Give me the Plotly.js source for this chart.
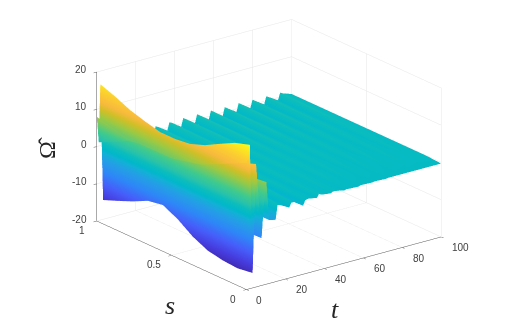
<!DOCTYPE html>
<html>
<head>
<meta charset="utf-8">
<script src="https://cdn.plot.ly/plotly-3.0.1.min.js"></script>
<style>html,body{margin:0;padding:0;background:#fff}#myPlot{width:508px;height:335px}</style>
</head>
<body>
<div id="myPlot"></div>
<script>
// t positions of the grid (crest, after crest, before next crest for each tooth)
var t_values = [0, 1, 1.8, 3.2, 5, 7.8, 8.9, 10.3, 11.7, 15,
    16, 17.4, 22, 23.1, 24.5, 29.1, 30.2, 31.6, 36.2, 37.3, 38.7, 43.3,
    44.4, 45.8, 50.4, 51.5, 52.9, 57.5, 58.6, 60, 64.6, 65.7, 67.1, 71.7,
    72.8, 74.2, 78.8, 79.9, 81.3, 85.9, 87, 88.4, 93, 94.1, 95.5, 100];
var s_values = [1, 0.9, 0.8, 0.7, 0.6, 0.5, 0.4, 0.3, 0.2, 0.1, 0];

// surface height, one row per s value
var z_s100 = [8, 1, 16.5, -14.8, 10, -6.7, 1, 6.6, -2.8, -2, 2.5, 1.8, -1.5, 2, 1.4, -1.2, 1.2, 0.8, -0.8, 1.3, 0.9, -0.8, 1.4, 0.9, -0.8, 1.4, 0.9, -0.8, 1.4, 0.9, -0.9, 1.3, 0.8, -0.8, 1.4, 0.9, -0.8, 1.3, 0.8, -0.8, 1.2, 0.8, -0.7, 1.2, 0.8, 0];
var z_s090 = [7, 3, 15, -13.2, 9.5, -6, 0.9, 6, -2.5, -2, 2.4, 1.7, -1.4, 1.9, 1.3, -1.1, 1.1, 0.7, -0.7, 1.2, 0.8, -0.7, 1.3, 0.8, -0.7, 1.3, 0.8, -0.7, 1.3, 0.8, -0.8, 1.2, 0.7, -0.7, 1.3, 0.8, -0.7, 1.2, 0.7, -0.7, 1.1, 0.7, -0.6, 1.1, 0.7, 0];
var z_s080 = [6, 5, 13.2, -11.5, 8.6, -5.2, 0.8, 5.3, -2.2, -1.9, 2.3, 1.6, -1.4, 1.8, 1.2, -1, 1, 0.7, -0.7, 1.1, 0.7, -0.7, 1.2, 0.8, -0.7, 1.2, 0.8, -0.7, 1.2, 0.8, -0.7, 1.1, 0.7, -0.6, 1.1, 0.7, -0.6, 1.1, 0.7, -0.6, 1, 0.6, -0.6, 1, 0.6, 0];
var z_s070 = [6, 6, 12, -9.5, 7.8, -4.3, 0.7, 4.8, -1.9, -1.8, 2.2, 1.5, -1.3, 1.7, 1.1, -1, 0.9, 0.6, -0.6, 1, 0.6, -0.6, 1.1, 0.7, -0.6, 1, 0.7, -0.6, 1, 0.7, -0.6, 1, 0.6, -0.6, 1, 0.6, -0.5, 0.9, 0.6, -0.5, 0.9, 0.5, -0.5, 0.9, 0.5, 0];
var z_s060 = [6, 7, 11, -8.8, 7, -4, 0.6, 4.4, -1.7, -1.8, 2.1, 1.4, -1.2, 1.6, 1, -0.9, 0.9, 0.6, -0.6, 0.9, 0.6, -0.5, 0.9, 0.6, -0.5, 0.9, 0.6, -0.5, 0.9, 0.6, -0.5, 0.8, 0.5, -0.5, 0.8, 0.5, -0.5, 0.8, 0.5, -0.4, 0.7, 0.5, -0.4, 0.7, 0.4, 0];
var z_s050 = [6, 8, 11, -10.8, 7, -4.9, 0.6, 4.4, -2, -2, 2, 1.3, -1.2, 1.5, 1, -0.9, 0.8, 0.5, -0.5, 0.8, 0.5, -0.5, 0.8, 0.5, -0.4, 0.7, 0.5, -0.4, 0.7, 0.5, -0.4, 0.7, 0.4, -0.4, 0.6, 0.4, -0.4, 0.6, 0.4, -0.3, 0.6, 0.4, -0.3, 0.5, 0.3, 0];
var z_s040 = [7, 9, 11.5, -13.6, 7.5, -6.1, 0.7, 4.6, -2.5, -2.3, 2, 1.3, -1.3, 1.4, 0.9, -1, 0.7, 0.4, -0.5, 0.7, 0.4, -0.4, 0.6, 0.4, -0.4, 0.6, 0.4, -0.3, 0.5, 0.3, -0.3, 0.5, 0.3, -0.3, 0.5, 0.3, -0.3, 0.4, 0.3, -0.3, 0.4, 0.2, -0.2, 0.4, 0.2, 0];
var z_s030 = [8, 10, 13, -15.5, 8.5, -7, 0.8, 5.2, -2.8, -2.6, 1.8, 1.1, -1.3, 1.3, 0.8, -1.1, 0.6, 0.4, -0.6, 0.6, 0.3, -0.4, 0.5, 0.3, -0.3, 0.4, 0.3, -0.3, 0.4, 0.2, -0.2, 0.4, 0.2, -0.2, 0.3, 0.2, -0.2, 0.3, 0.2, -0.2, 0.3, 0.2, -0.2, 0.3, 0.1, 0];
var z_s020 = [10, 11, 15.2, -16.3, 10, -7.3, 0.9, 6.1, -3, -3, 1.4, 0.8, -1.3, 1, 0.6, -1.3, 0.5, 0.3, -0.6, 0.5, 0.2, -0.4, 0.4, 0.2, -0.3, 0.3, 0.2, -0.2, 0.3, 0.1, -0.2, 0.2, 0.1, -0.2, 0.2, 0.1, -0.1, 0.2, 0.1, -0.1, 0.2, 0.1, -0.1, 0.1, 0.1, 0];
var z_s010 = [12, 13, 17.3, -16.6, 11.5, -7.5, 1, 6.9, -3, -3.2, 0.9, 0.6, -1.2, 0.5, 0.2, -1.5, 0.2, 0, -0.6, 0.4, 0, -0.4, 0.2, 0, -0.4, 0.1, 0, -0.3, 0.1, 0, -0.2, 0.1, 0, -0.2, 0.1, 0, -0.2, 0.1, 0, -0.1, 0.1, 0, -0.1, 0, 0, 0];
var z_s000 = [14, 15, 18.6, -16, 13, -7.3, 1, 7.4, -3, -3.4, 0.4, 0.2, -1.1, 0.1, 0, -1.6, -0.3, -0.1, -0.5, 0.4, 0, -0.3, 0, 0, -0.5, -0.3, -0.4, -0.5, -0.3, -0.3, -0.4, -0.3, -0.3, -0.4, -0.3, -0.3, -0.3, -0.3, -0.3, -0.3, -0.3, -0.3, -0.3, -0.3, -0.3, -0.3];
var z_values = [z_s100, z_s090, z_s080, z_s070, z_s060, z_s050, z_s040, z_s030, z_s020, z_s010, z_s000];

var t_ticks = [0, 20, 40, 60, 80, 100];
var s_ticks = [0, 0.5, 1];
var z_ticks = [-20, -10, 0, 10, 20];

var parula = [
    [0, 'rgb(62,38,168)'], [0.095, 'rgb(70,60,222)'], [0.19, 'rgb(70,94,250)'], [0.286, 'rgb(46,135,247)'],
    [0.38, 'rgb(35,160,229)'], [0.43, 'rgb(18,177,214)'], [0.46, 'rgb(1,184,202)'], [0.5, 'rgb(11,189,189)'],
    [0.55, 'rgb(44,196,167)'], [0.6, 'rgb(63,202,142)'], [0.7, 'rgb(157,201,67)'], [0.76, 'rgb(209,191,39)'],
    [0.81, 'rgb(248,186,61)'], [0.89, 'rgb(252,207,48)'], [1, 'rgb(249,251,21)']
];

function axisStyle(range, ticks) {
    return {
        range: range,
        tickmode: 'array',
        tickvals: ticks,
        showticklabels: false,
        ticks: 'outside',
        ticklen: 4,
        tickcolor: '#555',
        showline: true,
        linecolor: '#555',
        linewidth: 1,
        gridcolor: '#e6e6e6',
        gridwidth: 1,
        zeroline: false,
        showbackground: false,
        showspikes: false,
        title: {text: ''}
    };
}

var trace = {
    type: 'surface',
    x: t_values,
    y: s_values,
    z: z_values,
    colorscale: parula,
    cmin: -17.5,
    cmax: 18.6,
    showscale: false,
    hoverinfo: 'skip',
    lighting: {ambient: 1, diffuse: 0, specular: 0, fresnel: 0, roughness: 1}
};

function axisTitle(text, x, y, size, angle, style) {
    return {
        text: text, xref: 'paper', yref: 'paper', x: x / 508, y: 1 - y / 335,
        xanchor: 'center', yanchor: 'middle', showarrow: false, textangle: angle,
        font: {family: 'Liberation Serif', size: size, color: '#262626', style: style}
    };
}

// tick labels as real text, placed next to where the camera puts the box edge
function tickLabel(value, t, s, z, dx, dy, anchor) {
    return {
        text: String(value), xref: 'paper', yref: 'paper',
        x: (247 + 1.96 * t - 151 * s + dx) / 508,
        y: 1 - (290 - 0.53 * t - 69 * s - 3.75 * (z + 20) + dy) / 335,
        xanchor: anchor, yanchor: 'middle', showarrow: false,
        font: {family: 'Liberation Sans', size: 10, color: '#404040'}
    };
}

var tick_labels = [];
t_ticks.forEach(function (v) { tick_labels.push(tickLabel(v, v, 0, -20, 7.4, 10.5, 'left')); });
s_ticks.forEach(function (v) { tick_labels.push(tickLabel(v, 0, v, -20, -9, 9, 'right')); });
z_ticks.forEach(function (v) { tick_labels.push(tickLabel(v, 0, 1, v, -7.5, -2, 'right')); });

var layout = {
    width: 508,
    height: 335,
    margin: {l: 0, r: 0, t: 0, b: 0},
    paper_bgcolor: '#fff',
    showlegend: false,
    scene: {
        domain: {x: [0.06, 1], y: [0.078, 1]},
        aspectmode: 'manual',
        aspectratio: {x: 1.59, y: 1.59, z: 1.03},
        camera: {
            projection: {type: 'orthographic'},
            up: {x: 0, y: 0, z: 1},
            center: {x: 0, y: 0, z: 0},
            eye: {x: -1.14, y: -1.484, z: 0.703}
        },
        xaxis: axisStyle([0, 100], t_ticks),
        yaxis: axisStyle([0, 1], s_ticks),
        zaxis: axisStyle([-20, 20], z_ticks)
    },
    annotations: tick_labels.concat([
        axisTitle('s', 170, 305, 26, 0, 'italic'),
        axisTitle('t', 335, 309, 26, 0, 'italic'),
        axisTitle('Ω\u0302', 47, 148, 24, -90, 'normal')
    ])
};

Plotly.newPlot('myPlot', [trace], layout, {displayModeBar: false});
</script>
</body>
</html>
